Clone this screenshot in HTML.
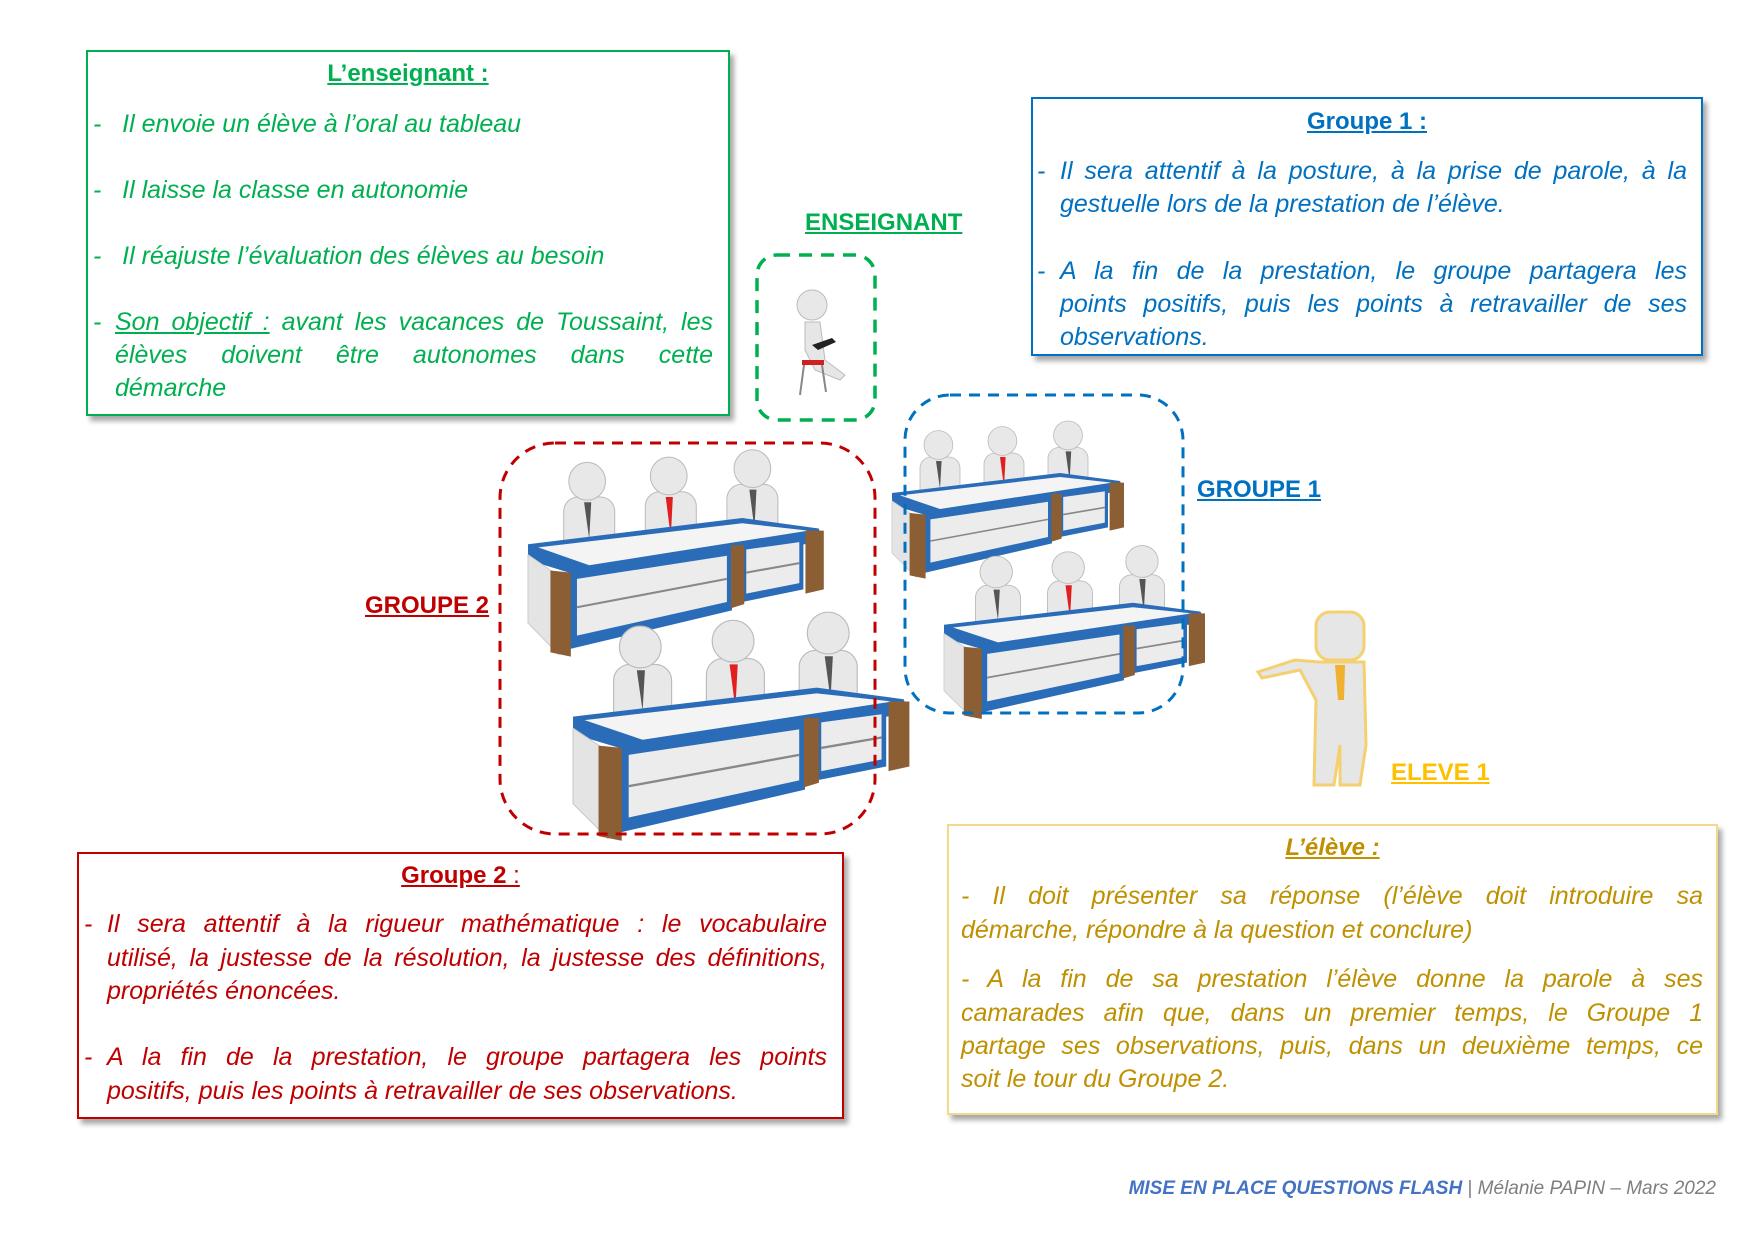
<!DOCTYPE html>
<html><head><meta charset="utf-8">
<style>
body{margin:0;width:1754px;height:1240px;background:#fff;position:relative;overflow:hidden;font-family:"Liberation Sans","DejaVu Sans",sans-serif;}
.box{position:absolute;box-sizing:border-box;background:#fff;box-shadow:4px 5px 5px rgba(0,0,0,0.35);}
.t{position:absolute;font-style:italic;font-size:25px;white-space:nowrap;}
.j{text-align:justify;text-align-last:justify;}
.title{position:absolute;font-weight:bold;font-size:24px;text-decoration:underline;white-space:nowrap;}
.lab{position:absolute;font-weight:bold;font-size:24px;text-decoration:underline;white-space:nowrap;}
svg{position:absolute;left:0;top:0;}
</style></head><body>

<svg width="1754" height="1240">
<defs>
<g id="desk">
  <g fill="#e8e8e8" stroke="#bbb" stroke-width="1">
    <rect x="35" y="40" width="50" height="55" rx="14"/>
    <circle cx="58" cy="25" r="18"/>
    <rect x="115" y="35" width="50" height="55" rx="14"/>
    <circle cx="138" cy="20" r="18"/>
    <rect x="195" y="28" width="50" height="55" rx="14"/>
    <circle cx="220" cy="13" r="18"/>
  </g>
  <polygon points="55,45 62,45 60,80" fill="#555"/>
  <polygon points="135,40 142,40 140,78" fill="#e02020"/>
  <polygon points="217,33 224,33 222,70" fill="#555"/>
  <polygon points="0,85 210,60 285,70 290,82 60,118 0,100" fill="#2b6cb8"/>
  <polygon points="10,88 210,65 275,72 60,105" fill="#f4f4f4"/>
  <polygon points="0,95 30,115 30,190 0,160" fill="#e4e4e4" stroke="#ccc"/>
  <polygon points="40,112 200,88 200,148 40,185" fill="#2b6cb8"/>
  <polygon points="48,118 195,96 195,140 48,172" fill="#ececec"/>
  <line x1="48" y1="145" x2="195" y2="118" stroke="#888" stroke-width="2"/>
  <polygon points="210,86 270,78 270,128 210,140" fill="#2b6cb8"/>
  <polygon points="214,90 266,83 266,122 214,132" fill="#ececec"/>
  <line x1="214" y1="112" x2="266" y2="103" stroke="#888" stroke-width="2"/>
  <polygon points="22,110 42,112 42,192 22,188" fill="#8b5e34"/>
  <polygon points="199,86 212,86 212,142 199,146" fill="#8b5e34"/>
  <polygon points="272,72 290,72 290,128 272,132" fill="#8b5e34"/>
</g>
</defs>

<use href="#desk" transform="translate(528,455) scale(1.02,1.05)"/>
<use href="#desk" transform="translate(573,618) scale(1.16,1.16)"/>
<use href="#desk" transform="translate(892,425) scale(0.80,0.80)"/>
<use href="#desk" transform="translate(944,550) scale(0.90,0.88)"/>

<rect x="757" y="255" width="118" height="165" rx="20" fill="none" stroke="#00b050" stroke-width="3.5" stroke-dasharray="13,9"/>
<rect x="500" y="443" width="375" height="391" rx="55" fill="none" stroke="#c00000" stroke-width="3" stroke-dasharray="11,8"/>
<rect x="905" y="395" width="278" height="318" rx="45" fill="none" stroke="#0070c0" stroke-width="3" stroke-dasharray="11,8"/>

<g>
  <circle cx="812" cy="305" r="15" fill="#e8e8e8" stroke="#bbb"/>
  <path d="M805 322 L820 322 L825 360 L845 375 L840 380 L815 370 L805 350 Z" fill="#e6e6e6" stroke="#bbb"/>
  <rect x="802" y="360" width="22" height="5" fill="#d02020"/>
  <line x1="804" y1="365" x2="800" y2="395" stroke="#888" stroke-width="2"/>
  <line x1="822" y1="365" x2="826" y2="392" stroke="#888" stroke-width="2"/>
  <polygon points="812,345 832,338 836,342 818,350" fill="#222"/>
</g>

<g>
  <rect x="1316" y="612" width="48" height="48" rx="14" fill="#e6e6e6" stroke="#f5d070" stroke-width="3"/>
  <path d="M1318 662 L1364 662 L1366 745 L1360 785 L1340 785 L1340 745 L1334 785 L1314 785 L1316 700 L1300 670 L1262 678 L1258 672 L1295 660 Z" fill="#e6e6e6" stroke="#f5d070" stroke-width="3"/>
  <polygon points="1335,665 1345,665 1344,700 1338,700" fill="#f0b030"/>
</g>
</svg>

<div class="box" style="left:86px;top:50px;width:644px;height:366px;border:2px solid #00b050;"></div>
<div class="title" style="left:86px;width:644px;text-align:center;top:60px;color:#00b050;">L’enseignant :</div>
<div class="t" style="left:93px;top:110px;color:#00b050;">-&nbsp;&nbsp; Il envoie un élève à l’oral au tableau</div>
<div class="t" style="left:93px;top:176px;color:#00b050;">-&nbsp;&nbsp; Il laisse la classe en autonomie</div>
<div class="t" style="left:93px;top:242px;color:#00b050;">-&nbsp;&nbsp; Il réajuste l’évaluation des élèves au besoin</div>
<div class="t" style="left:93px;top:308px;color:#00b050;">-</div>
<div class="t j" style="left:115px;width:598px;top:308px;color:#00b050;"><u>Son objectif :</u> avant les vacances de Toussaint, les</div>
<div class="t j" style="left:115px;width:598px;top:341px;color:#00b050;">élèves doivent être autonomes dans cette</div>
<div class="t" style="left:115px;top:374px;color:#00b050;">démarche</div>

<div class="box" style="left:1031px;top:97px;width:672px;height:259px;border:2px solid #0070c0;"></div>
<div class="title" style="left:1031px;width:672px;text-align:center;top:108px;color:#0070c0;">Groupe 1 :</div>
<div class="t" style="left:1037px;top:157px;color:#0070c0;">-</div>
<div class="t j" style="left:1060px;width:627px;top:157px;color:#0070c0;">Il sera attentif à la posture, à la prise de parole, à la</div>
<div class="t" style="left:1060px;top:190px;color:#0070c0;">gestuelle lors de la prestation de l’élève.</div>
<div class="t" style="left:1037px;top:257px;color:#0070c0;">-</div>
<div class="t j" style="left:1060px;width:627px;top:257px;color:#0070c0;">A la fin de la prestation, le groupe partagera les</div>
<div class="t j" style="left:1060px;width:627px;top:290px;color:#0070c0;">points positifs, puis les points à retravailler de ses</div>
<div class="t" style="left:1060px;top:323px;color:#0070c0;">observations.</div>

<div class="box" style="left:77px;top:852px;width:767px;height:267px;border:2px solid #c00000;"></div>
<div class="title" style="left:77px;width:767px;text-align:center;top:862px;color:#c00000;">Groupe 2<span style="text-decoration:none;font-weight:normal"> :</span></div>
<div class="t" style="left:84px;top:910px;color:#c00000;">-</div>
<div class="t j" style="left:107px;width:720px;top:910px;color:#c00000;">Il sera attentif à la rigueur mathématique : le vocabulaire</div>
<div class="t j" style="left:107px;width:720px;top:944px;color:#c00000;">utilisé, la justesse de la résolution, la justesse des définitions,</div>
<div class="t" style="left:107px;top:977px;color:#c00000;">propriétés énoncées.</div>
<div class="t" style="left:84px;top:1043px;color:#c00000;">-</div>
<div class="t j" style="left:107px;width:720px;top:1043px;color:#c00000;">A la fin de la prestation, le groupe partagera les points</div>
<div class="t" style="left:107px;top:1077px;color:#c00000;">positifs, puis les points à retravailler de ses observations.</div>

<div class="box" style="left:947px;top:824px;width:771px;height:291px;border:2px solid #f3d98a;"></div>
<div class="title" style="left:947px;width:771px;text-align:center;top:834px;color:#bf9000;font-style:italic;">L’élève :</div>
<div class="t j" style="left:961px;width:742px;top:882px;color:#bf9000;">- Il doit présenter sa réponse (l’élève doit introduire sa</div>
<div class="t" style="left:961px;top:916px;color:#bf9000;">démarche, répondre à la question et conclure)</div>
<div class="t j" style="left:961px;width:742px;top:965px;color:#bf9000;">- A la fin de sa prestation l’élève donne la parole à ses</div>
<div class="t j" style="left:961px;width:742px;top:999px;color:#bf9000;">camarades afin que, dans un premier temps, le Groupe 1</div>
<div class="t j" style="left:961px;width:742px;top:1032px;color:#bf9000;">partage ses observations, puis, dans un deuxième temps, ce</div>
<div class="t" style="left:961px;top:1065px;color:#bf9000;">soit le tour du Groupe 2.</div>

<div class="lab" style="left:805px;top:209px;color:#00b050;">ENSEIGNANT</div>
<div class="lab" style="left:1197px;top:476px;color:#0070c0;">GROUPE 1</div>
<div class="lab" style="left:365px;top:592px;color:#c00000;">GROUPE 2</div>
<div class="lab" style="left:1391px;top:759px;color:#ffc000;">ELEVE 1</div>

<div style="position:absolute;right:38px;top:1178px;font-size:19px;white-space:nowrap;"><b style="color:#4472c4;font-style:italic;">MISE EN PLACE QUESTIONS FLASH</b> <span style="color:#7f7f7f;">| <i>Mélanie PAPIN – Mars 2022</i></span></div>
</body></html>
